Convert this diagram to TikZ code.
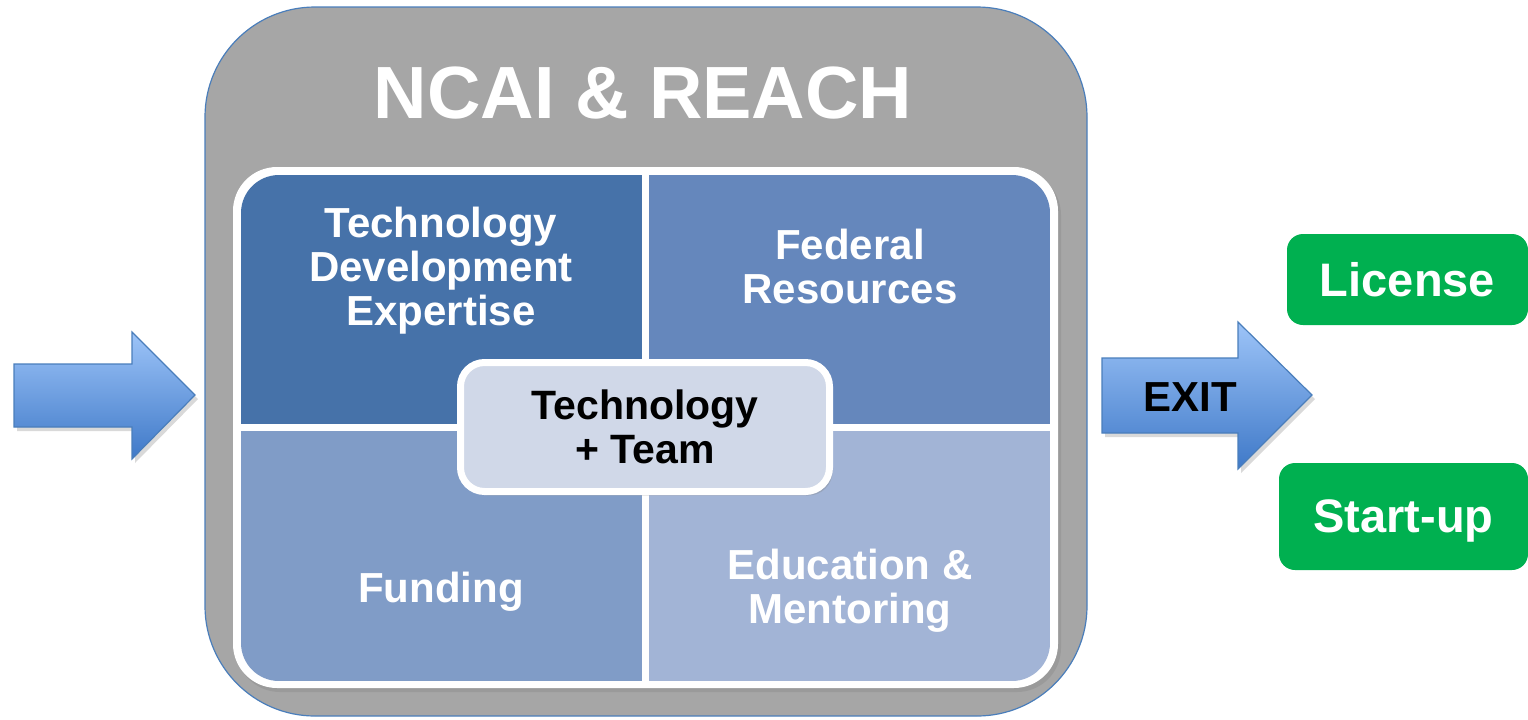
\documentclass[tikz,border=0pt]{standalone}
\usepackage{fontspec}
\setmainfont{Liberation Sans}
\usetikzlibrary{shadows}
\definecolor{frameblue}{HTML}{4A7EBB}
\definecolor{shellgray}{HTML}{A6A6A6}
\definecolor{quadA}{HTML}{4672A9}
\definecolor{quadB}{HTML}{6587BC}
\definecolor{quadC}{HTML}{809CC7}
\definecolor{quadD}{HTML}{A2B4D6}
\definecolor{corefill}{HTML}{D0D8E8}
\definecolor{arrowtop}{HTML}{9DC4F8}
\definecolor{arrowbot}{HTML}{3F79C8}
\definecolor{exitgreen}{HTML}{00B050}
\begin{document}
\begin{tikzpicture}[x=0.5pt,y=-0.5pt,
  softshadow/.style={drop shadow={opacity=0.3,shadow xshift=1.5pt,shadow yshift=-2pt}},
  quadtext/.style={text=white,font=\bfseries\fontsize{21}{22}\selectfont,align=center},
  corebox/.style={rectangle,rounded corners=12pt,fill=corefill,draw=white,line width=3.5pt,
    minimum width=184.5pt,minimum height=64.5pt,softshadow,
    font=\bfseries\fontsize{20.5}{22}\selectfont,align=center},
  outcome/.style={rectangle,rounded corners=8pt,fill=exitgreen,text=white,text depth=0pt,
    font=\bfseries\fontsize{23.5}{26}\selectfont},
  bigarrow/.style={draw=frameblue,line width=0.6pt,top color=arrowtop,bottom color=arrowbot,softshadow}]
\useasboundingbox (0,0) rectangle (1528,719);

% incoming arrow
\path[bigarrow] (14,364) -- (132,364) -- (132,332) -- (195,395) -- (132,459) -- (132,427) -- (14,427) -- cycle;

% outer grey shell
\path[fill=shellgray,draw=frameblue,line width=0.6pt,rounded corners=55pt] (205,7) rectangle (1087,716);
\node[text=white,font=\bfseries\fontsize{37}{40}\selectfont] (title) at (643,93) {NCAI \& REACH};

% white frame of the four quadrants
\path[fill=white,rounded corners=22pt,softshadow] (233,167) rectangle (1058,688);
\begin{scope}
  \clip[rounded corners=19pt] (241,175) rectangle (1050,681);
  \fill[quadA] (241,175) rectangle (642,424);
  \fill[quadB] (649,175) rectangle (1050,424);
  \fill[quadC] (241,431) rectangle (642,681);
  \fill[quadD] (649,431) rectangle (1050,681);
\end{scope}

\node[quadtext] (expertise) at (441,271) {Technology\\Development\\Expertise};
\node[quadtext] (federal) at (850,266) {Federal\\Resources};
\node[quadtext] (funding) at (441,592) {Funding};
\node[quadtext] (education) at (850,591) {Education \&\\Mentoring};

% centre box
\node[corebox] (core) at (645,427) {Technology\\+ Team};

% exit arrow
\path[bigarrow] (1102,358) -- (1238,358) -- (1238,322) -- (1312,395) -- (1238,469) -- (1238,433) -- (1102,433) -- cycle;
\node[font=\bfseries\fontsize{21}{22}\selectfont] (exit) at (1190,397) {EXIT};

% outcomes
\node[outcome,minimum width=120.5pt,minimum height=45.5pt] (license) at (1407.5,279.5) {License};
\node[outcome,minimum width=124.5pt,minimum height=53.5pt] (startup) at (1403.5,516.5) {Start-up};
\end{tikzpicture}
\end{document}
